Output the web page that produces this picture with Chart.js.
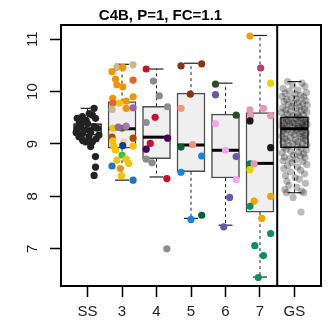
<!DOCTYPE html>
<html><head><meta charset="utf-8">
<script src="https://cdn.jsdelivr.net/npm/chart.js@4/dist/chart.umd.min.js"></script>
<style>html,body{margin:0;padding:0;background:#fff;}#wrap{width:328px;height:325px;}</style>
</head><body><div id="wrap"><canvas id="c" width="328" height="325"></canvas></div>
<script>
// ---- data ----
const categories = ['SS','3','4','5','6','7','GS'];
const yTicks = [7, 8, 9, 10, 11];
const titleText = 'C4B, P=1, FC=1.1';

const boxQ1      = [9.17, 8.92, 8.72, 8.47, 8.35, 7.70, 8.93];
const boxMedian  = [9.29, 9.29, 9.13, 8.98, 8.88, 8.63, 9.29];
const boxQ3      = [9.39, 9.81, 9.72, 9.97, 9.57, 9.60, 9.52];
const whiskerLow = [9.01, 8.31, 8.37, 7.58, 7.45, 6.46, 8.07];
const whiskerHigh= [9.68, 10.52, 10.43, 10.54, 10.16, 11.07, 10.19];

const ssValues = [9.68,9.52,9.55,9.49,9.49,9.39,9.42,9.33,9.33,9.30,9.27,9.30,9.20,9.23,9.14,9.14,9.17,9.04,9.04,8.95,8.76,8.56,8.40,9.58,9.40,9.45,9.22,9.10,9.08];
const ssJitter = [0.19,-0.15,0.14,0.23,-0.30,0.00,-0.10,-0.20,0.19,-0.30,-0.06,0.28,-0.15,0.09,-0.25,0.04,0.33,-0.06,0.14,0.09,0.23,0.23,0.19,0.05,-0.24,-0.04,-0.33,0.25,-0.15];

const g3Values = [10.51,10.46,10.46,10.38,10.24,10.22,10.13,10.09,9.90,9.87,9.82,9.78,9.78,9.66,9.68,9.69,9.30,9.30,9.34,9.32,9.13,9.11,9.06,9.04,8.97,8.96,8.96,8.88,8.79,8.71,8.69,8.63,8.58,8.53,8.39,8.31];
const g3Jitter = [0.32,-0.15,0.02,-0.29,-0.19,0.32,-0.15,0.02,0.32,-0.27,0.12,-0.07,-0.27,-0.29,0.12,0.32,-0.27,0.00,0.12,-0.11,-0.29,0.32,-0.27,0.05,0.02,0.32,-0.24,-0.19,0.00,0.12,-0.15,0.19,-0.29,-0.05,-0.02,0.32];
const g3Colors = ['#C9B78C','#C9B78C','#F29400','#F29400','#F29400','#E5641E','#F29400','#F29400','#F29400','#F29400','#F29400','#F3C300','#E5641E','#C9B78C','#F29400','#9B63A8','#F3C300','#4E7A0C','#A877B5','#9B63A8','#B04A02','#B04A02','#F3C300','#F6CBAA','#0B3D91','#F3C300','#F3C300','#F3C300','#35C447','#F3C300','#F3C300','#F3C300','#1B77C0','#F29400','#F3C300','#1B77C0'];

const g4Values = [10.43,10.20,9.92,9.71,9.41,9.51,9.11,9.01,8.90,8.71,8.64,8.34,7.00];
const g4Jitter = [-0.30,-0.09,0.08,0.32,-0.30,-0.04,0.32,-0.18,-0.30,-0.30,-0.13,0.30,0.30];
const g4Colors = ['#C8102E','#8C8C8C','#8C8C8C','#8C8C8C','#8C8C8C','#C8102E','#4A0057','#C8102E','#4A0057','#8C8C8C','#8C8C8C','#C8102E','#8C8C8C'];

const g5Values = [10.49,10.53,9.95,9.68,8.94,8.99,8.77,8.46,7.56,7.64];
const g5Jitter = [-0.29,0.31,-0.02,-0.29,-0.29,0.05,0.31,-0.29,0.00,0.31];
const g5Colors = ['#8B3414','#8B3414','#8B3414','#F4947A','#00603A','#F4947A','#1583E6','#1583E6','#1583E6','#00603A'];

const g6Values = [10.14,9.94,9.39,8.88,9.55,8.76,8.32,7.98,7.42];
const g6Jitter = [-0.29,-0.29,-0.29,0.00,0.31,0.31,0.31,0.12,-0.05];
const g6Colors = ['#2E4A2A','#6A56A8','#F2A6F2','#F2A6F2','#2E4A2A','#6A56A8','#F2A6F2','#6A56A8','#6A56A8'];

const g7Values = [11.06,10.45,10.16,9.65,9.68,9.54,9.53,9.44,8.93,8.62,8.62,8.51,8.00,7.91,7.81,7.58,7.29,7.06,6.87,6.45];
const g7Jitter = [-0.29,0.02,0.31,-0.29,0.10,0.31,-0.27,-0.29,0.31,-0.29,-0.17,-0.29,0.31,-0.17,-0.29,0.05,0.31,-0.15,0.10,-0.05];
const g7Colors = ['#F5A200','#B5406A','#E6D400','#EC96B6','#EC96B6','#EC96B6','#EC96B6','#1A1A1A','#1A1A1A','#0A7F4E','#EC96B6','#E6D400','#F5A200','#F5A200','#0A8F5E','#F5A200','#0A8F5E','#0A8F5E','#0A8F5E','#0A8F5E'];

const gsValues = [10.19,10.16,10.12,10.10,10.06,10.03,10.01,9.98,9.97,9.95,9.93,9.91,9.90,9.88,9.86,9.85,9.83,9.81,9.80,9.78,9.77,9.75,9.74,9.72,9.71,9.69,9.68,9.66,9.65,9.64,9.62,9.61,9.60,9.58,9.57,9.55,9.54,9.53,
9.51,9.50,9.49,9.48,9.47,9.47,9.46,9.45,9.44,9.43,9.42,9.41,9.40,9.39,9.39,9.38,9.37,9.36,9.35,9.34,9.34,9.33,9.32,9.31,9.30,9.30,
9.28,9.27,9.26,9.25,9.24,9.23,9.21,9.20,9.19,9.18,9.16,9.15,9.14,9.12,9.11,9.10,9.08,9.07,9.06,9.04,9.03,9.01,9.00,8.98,8.97,8.95,8.94,
8.92,8.90,8.88,8.86,8.84,8.83,8.81,8.79,8.77,8.75,8.74,8.72,8.70,8.68,8.66,8.64,8.61,8.59,8.56,8.53,8.50,8.47,8.43,8.40,8.36,8.33,8.29,8.25,8.21,8.17,8.13,8.10,8.07,8.07,7.98,7.70];
const gsJitter = [-0.20,0.22,-0.05,0.30,-0.33,0.10,-0.15,0.35,-0.27,0.02,0.18,-0.36,0.27,-0.10,0.06,-0.22,0.33,-0.30,0.13,-0.02,0.24,-0.18,0.37,-0.08,0.15,-0.34,0.04,0.29,-0.25,0.20,-0.12,0.36,-0.38,0.08,-0.21,0.26,-0.04,0.12,
-0.30,0.16,-0.11,0.34,-0.24,0.05,0.27,-0.35,0.10,-0.17,0.31,-0.06,0.21,-0.29,0.01,0.37,-0.14,0.24,-0.37,0.12,-0.22,0.30,-0.02,0.18,-0.32,0.08,
0.28,-0.19,0.06,-0.33,0.22,-0.08,0.35,-0.26,0.14,-0.01,0.31,-0.37,0.19,-0.12,0.26,-0.28,0.03,0.33,-0.21,0.10,-0.34,0.23,-0.05,0.36,-0.16,0.09,-0.30,
0.20,-0.24,0.34,-0.10,0.12,-0.36,0.27,-0.02,0.17,-0.29,0.31,-0.14,0.05,-0.33,0.24,-0.07,0.36,-0.20,0.09,-0.31,0.18,-0.12,0.29,-0.26,0.02,0.14,-0.22,0.32,-0.16,0.07,-0.28,0.21,-0.23,0.27,-0.04,0.19];

// ---- build chart ----
const FONT = "'Liberation Sans', Arial, Helvetica, sans-serif";
function pts(pos, vals, jit) {
  const n = Math.min(vals.length, jit.length);
  const out = [];
  for (let i = 0; i < n; i++) out.push({x: pos + jit[i], y: vals[i]});
  return out;
}
const boxBorder = ['#111','#4d4d4d','#4d4d4d','#4d4d4d','#4d4d4d','#4d4d4d','#111'];

const boxExtras = {
  id: 'boxExtras',
  afterDatasetDraw(chart, args) {
    if (args.index !== 0) return;
    const {ctx, scales: {x, y}} = chart;
    ctx.save();
    const seg = (x1, y1, x2, y2) => { ctx.beginPath(); ctx.moveTo(x1, y1); ctx.lineTo(x2, y2); ctx.stroke(); };
    categories.forEach((c, i) => {
      const px = x.getPixelForValue(i + 1);
      const half = 13.5, cap = 7;
      ctx.strokeStyle = '#222';
      ctx.lineWidth = 1;
      ctx.setLineDash([3, 3]);
      seg(px, y.getPixelForValue(boxQ3[i]), px, y.getPixelForValue(whiskerHigh[i]));
      seg(px, y.getPixelForValue(boxQ1[i]), px, y.getPixelForValue(whiskerLow[i]));
      ctx.setLineDash([]);
      ctx.lineWidth = 1.2;
      seg(px - cap, y.getPixelForValue(whiskerHigh[i]), px + cap, y.getPixelForValue(whiskerHigh[i]));
      seg(px - cap, y.getPixelForValue(whiskerLow[i]), px + cap, y.getPixelForValue(whiskerLow[i]));
      ctx.strokeStyle = '#000';
      ctx.lineWidth = 3;
      seg(px - half, y.getPixelForValue(boxMedian[i]), px + half, y.getPixelForValue(boxMedian[i]));
    });
    ctx.restore();
  }
};
const frame = {
  id: 'frame',
  afterDatasetsDraw(chart) {
    const {ctx, chartArea: a, scales: {x}} = chart;
    ctx.save();
    ctx.strokeStyle = '#000';
    ctx.lineWidth = 2;
    ctx.strokeRect(a.left, a.top, a.right - a.left, a.bottom - a.top);
    const sx = x.getPixelForValue(6.5);
    ctx.beginPath(); ctx.moveTo(sx, a.top); ctx.lineTo(sx, a.bottom); ctx.stroke();
    ctx.restore();
  }
};

const scat = (data, colors) => ({
  type: 'scatter', data, backgroundColor: colors, borderWidth: 0,
  pointRadius: 3.6, pointHoverRadius: 3.6, order: 0
});

new Chart(document.getElementById('c'), {
  type: 'scatter',
  data: {
    datasets: [
      {
        type: 'bar',
        data: categories.map((c, i) => ({x: i + 1, y: [boxQ1[i], boxQ3[i]]})),
        backgroundColor: '#EFEFEF', borderColor: boxBorder, borderWidth: 1.5,
        borderSkipped: false, barThickness: 28, order: 10
      },
      scat(pts(1, ssValues, ssJitter), '#222222'),
      scat(pts(2, g3Values, g3Jitter), g3Colors),
      scat(pts(3, g4Values, g4Jitter), g4Colors),
      scat(pts(4, g5Values, g5Jitter), g5Colors),
      scat(pts(5, g6Values, g6Jitter), g6Colors),
      scat(pts(6, g7Values, g7Jitter), g7Colors),
      scat(pts(7, gsValues, gsJitter), 'rgba(0,0,0,0.27)')
    ]
  },
  options: {
    responsive: false, animation: false, devicePixelRatio: 1,
    layout: {padding: {left: 0, right: 7, top: 0, bottom: 0}},
    plugins: {
      legend: {display: false}, tooltip: {enabled: false},
      title: {display: true, text: titleText, color: '#000',
        font: {family: FONT, size: 15, weight: 'bold'}, padding: {top: 7, bottom: 0}}
    },
    scales: {
      x: {
        type: 'linear', min: 0.23, max: 7.77, offset: false,
        afterBuildTicks: s => { s.ticks = categories.map((c, i) => ({value: i + 1})); },
        afterFit: s => { s.height = 39; },
        border: {display: false},
        grid: {display: true, offset: false, drawOnChartArea: false, drawTicks: true, tickLength: 11, tickWidth: 1.5, tickColor: '#000'},
        ticks: {color: '#222', padding: 6, font: {family: FONT, size: 15},
          maxRotation: 0, minRotation: 0, autoSkip: false,
          callback: v => categories[Math.round(v) - 1]}
      },
      y: {
        type: 'linear', min: 6.29, max: 11.27,
        afterBuildTicks: s => { s.ticks = yTicks.map(v => ({value: v})); },
        afterFit: s => { s.width = 61; },
        border: {display: false},
        grid: {display: true, drawOnChartArea: false, drawTicks: true, tickLength: 11, tickWidth: 1.5, tickColor: '#000'},
        ticks: {color: '#222', padding: 9, crossAlign: 'center', minRotation: 90, maxRotation: 90,
          font: {family: FONT, size: 15}, callback: v => String(v)}
      }
    }
  },
  plugins: [boxExtras, frame]
});
</script></body></html>
